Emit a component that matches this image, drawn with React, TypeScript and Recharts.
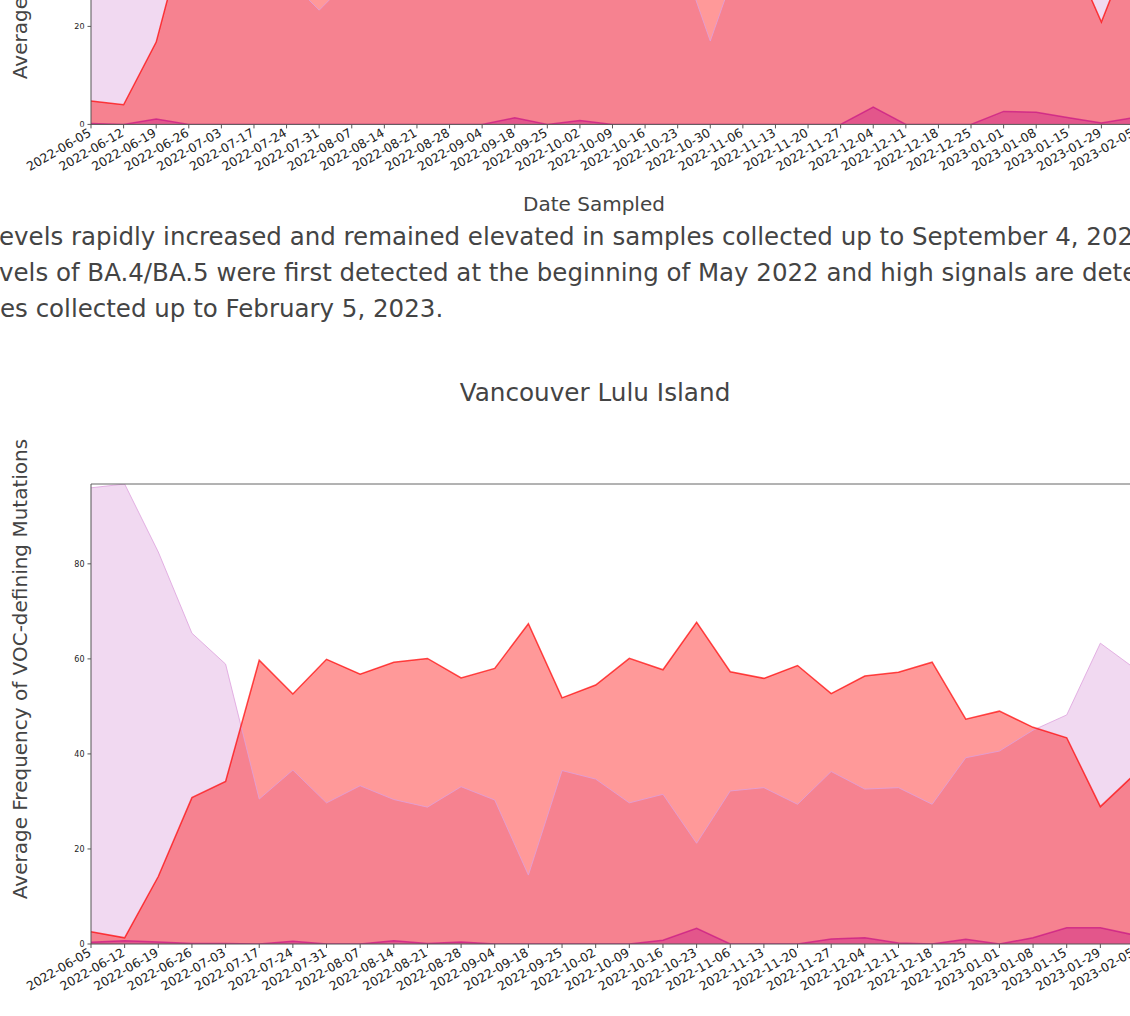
import React from "react";
import {
  ComposedChart,
  Area,
  Line,
  XAxis,
  YAxis,
  ReferenceLine,
} from "recharts";

// upper chart (only its lower part is in view)
const upperDates = [
  "2022-06-05", "2022-06-12", "2022-06-19", "2022-06-26", "2022-07-03",
  "2022-07-17", "2022-07-24", "2022-07-31", "2022-08-07", "2022-08-14",
  "2022-08-21", "2022-08-28", "2022-09-04", "2022-09-18", "2022-09-25",
  "2022-10-02", "2022-10-09", "2022-10-16", "2022-10-23", "2022-10-30",
  "2022-11-06", "2022-11-13", "2022-11-20", "2022-11-27", "2022-12-04",
  "2022-12-11", "2022-12-18", "2022-12-25", "2023-01-01", "2023-01-08",
  "2023-01-15", "2023-01-29", "2023-02-05",
];
const upperLilac = [
  92, 90, 75, 60, 45, 35, 30, 23.3, 30, 34, 32, 35, 33, 30, 33, 36, 34,
  32, 36, 17, 36, 34, 33, 36, 32, 34, 31, 38, 42, 44, 48, 60, 55,
];
const upperRed = [
  4.75, 4.0, 16.8, 42, 52, 60, 58, 62, 60, 61, 63, 60, 62, 64, 60, 58, 61,
  63, 60, 70, 58, 60, 62, 58, 60, 57, 59, 55, 52, 50, 36, 20.9, 37.8,
];
const upperMagenta = [
  0.2, 0, 1.1, 0, 0, 0, 0, 0, 0, 0, 0, 0, 0, 1.35, 0, 0.8, 0,
  0, 0, 0, 0, 0, 0, 0, 3.55, 0, 0, 0, 2.65, 2.5, 1.35, 0.3, 1.4,
];

// Vancouver Lulu Island
const luluDates = [
  "2022-06-05", "2022-06-12", "2022-06-19", "2022-06-26", "2022-07-03",
  "2022-07-17", "2022-07-24", "2022-07-31", "2022-08-07", "2022-08-14",
  "2022-08-21", "2022-08-28", "2022-09-04", "2022-09-18", "2022-09-25",
  "2022-10-02", "2022-10-09", "2022-10-16", "2022-10-23", "2022-11-06",
  "2022-11-13", "2022-11-20", "2022-11-27", "2022-12-04", "2022-12-11",
  "2022-12-18", "2022-12-25", "2023-01-01", "2023-01-08", "2023-01-15",
  "2023-01-29", "2023-02-05",
];
const luluLilac = [
  96.0, 96.8, 82.5, 65.4, 58.9, 30.5, 36.6, 29.7, 33.3, 30.4, 28.8, 33.1,
  30.3, 14.5, 36.5, 34.7, 29.7, 31.5, 21.2, 32.2, 32.9, 29.4, 36.3, 32.6,
  32.9, 29.4, 39.2, 40.6, 45.0, 48.2, 63.3, 58.1,
];
const luluRed = [
  2.6, 1.3, 14.2, 30.8, 34.2, 59.7, 52.6, 59.9, 56.8, 59.3, 60.1, 56.0,
  58.0, 67.4, 51.8, 54.5, 60.1, 57.7, 67.7, 57.3, 55.9, 58.6, 52.7, 56.4,
  57.2, 59.3, 47.3, 49.0, 45.6, 43.4, 28.9, 35.6,
];
const luluMagenta = [
  0.35, 0.7, 0.4, 0.1, 0.1, 0, 0.6, 0, 0, 0.7, 0.1, 0.4, 0, 0, 0, 0, 0,
  0.8, 3.3, 0, 0, 0, 1.05, 1.3, 0.2, 0, 1.0, 0, 1.3, 3.4, 3.4, 1.9,
];

const yTicks = [0, 20, 40, 60, 80];

const TEXT = "#444";
const SPINE = "#555";

function rows(dates: string[], lilac: number[], red: number[], magenta: number[]) {
  return dates.map((date, i) => ({
    date,
    lilac: lilac[i],
    red: red[i],
    magenta: magenta[i],
  }));
}

function DateTick({ x, y, payload }: any) {
  const px = x + 1;
  const py = y + 5;
  return (
    <text
      x={px}
      y={py}
      transform={`rotate(-30 ${px} ${py})`}
      textAnchor="end"
      fontSize={12.4}
      fill="#222"
    >
      {payload.value}
    </text>
  );
}

function SiteChart({
  data,
  yMax,
  plotHeight,
}: {
  data: any[];
  yMax: number;
  plotHeight: number;
}) {
  return (
    <ComposedChart
      width={1200}
      height={10 + plotHeight + 72}
      data={data}
      margin={{ top: 10, right: 66, bottom: 0, left: 0 }}
    >
      <Area
        type="linear"
        dataKey="lilac"
        stroke="none"
        fill="plum"
        fillOpacity={0.4}
        dot={false}
        activeDot={false}
        isAnimationActive={false}
      />
      <Area
        type="linear"
        dataKey="red"
        stroke="none"
        fill="red"
        fillOpacity={0.4}
        dot={false}
        activeDot={false}
        isAnimationActive={false}
      />
      <Area
        type="linear"
        dataKey="magenta"
        stroke="none"
        fill="#c71585"
        fillOpacity={0.4}
        dot={false}
        activeDot={false}
        isAnimationActive={false}
      />
      <Line
        type="linear"
        dataKey="lilac"
        stroke="plum"
        strokeWidth={1}
        strokeOpacity={0.8}
        dot={false}
        activeDot={false}
        isAnimationActive={false}
      />
      <Line
        type="linear"
        dataKey="red"
        stroke="red"
        strokeWidth={1.5}
        strokeOpacity={0.7}
        dot={false}
        activeDot={false}
        isAnimationActive={false}
      />
      <Line
        type="linear"
        dataKey="magenta"
        stroke="#c71585"
        strokeWidth={1.5}
        strokeOpacity={0.7}
        dot={false}
        activeDot={false}
        isAnimationActive={false}
      />
      <ReferenceLine y={yMax} stroke="#666" strokeWidth={1} />
      <XAxis
        dataKey="date"
        scale="point"
        padding={{ left: 0, right: 0 }}
        interval={0}
        height={72}
        tick={<DateTick />}
        tickSize={4}
        tickLine={{ stroke: SPINE }}
        axisLine={{ stroke: SPINE }}
      />
      <YAxis
        type="number"
        domain={[0, yMax]}
        ticks={yTicks}
        width={91}
        tickSize={3.5}
        tickMargin={3}
        tick={{ fontSize: 8, fill: "#222" }}
        tickLine={{ stroke: SPINE }}
        axisLine={{ stroke: SPINE }}
        allowDataOverflow
      />
    </ComposedChart>
  );
}

const yLabel = "Average Frequency of VOC-defining Mutations";

function YLabel({ cy }: { cy: number }) {
  return (
    <div
      style={{
        position: "absolute",
        left: 20,
        top: cy,
        transform: "translate(-50%, -50%) rotate(-90deg)",
        fontSize: 20,
        lineHeight: "20px",
        color: TEXT,
        whiteSpace: "nowrap",
      }}
    >
      {yLabel}
    </div>
  );
}

function XLabel({ top }: { top: number }) {
  return (
    <div
      style={{
        position: "absolute",
        left: 594,
        top,
        transform: "translateX(-50%)",
        fontSize: 20,
        lineHeight: "20px",
        color: TEXT,
        whiteSpace: "nowrap",
      }}
    >
      Date Sampled
    </div>
  );
}

function TextLine({ top, left, hidden, text }: { top: number; left: number; hidden: string; text: string }) {
  return (
    <div
      style={{
        position: "absolute",
        top,
        left,
        fontSize: 24.5,
        lineHeight: "36px",
        color: TEXT,
        whiteSpace: "nowrap",
      }}
    >
      <span style={{ position: "absolute", right: "100%" }}>{hidden}</span>
      {text}
    </div>
  );
}

export default function App() {
  const upper = rows(upperDates, upperLilac, upperRed, upperMagenta);
  const lulu = rows(luluDates, luluLilac, luluRed, luluMagenta);
  return (
    <div
      style={{
        position: "absolute",
        left: 0,
        top: 0,
        width: 1130,
        height: 1016,
        overflow: "hidden",
        background: "#fff",
        fontFamily: "'DejaVu Sans', sans-serif",
      }}
    >
      <div style={{ position: "absolute", left: 0, top: -356.4 }}>
        <SiteChart data={upper} yMax={96} plotHeight={470.4} />
      </div>
      <YLabel cy={-151.5} />
      <XLabel top={194} />

      <TextLine
        top={218.5}
        left={-1}
        hidden="L"
        text="evels rapidly increased and remained elevated in samples collected up to September 4, 2022."
      />
      <TextLine
        top={254.5}
        left={-1}
        hidden="Le"
        text="vels of BA.4/BA.5 were first detected at the beginning of May 2022 and high signals are detected in"
      />
      <TextLine
        top={290.5}
        left={0}
        hidden="sampl"
        text="es collected up to February 5, 2023."
      />

      <div
        style={{
          position: "absolute",
          left: 595,
          top: 380.5,
          transform: "translateX(-50%)",
          fontSize: 24.7,
          lineHeight: "24px",
          color: TEXT,
          whiteSpace: "nowrap",
        }}
      >
        Vancouver Lulu Island
      </div>

      <div style={{ position: "absolute", left: 0, top: 474 }}>
        <SiteChart data={lulu} yMax={96.8} plotHeight={460} />
      </div>
      <YLabel cy={668.5} />
      <XLabel top={1014} />
    </div>
  );
}
